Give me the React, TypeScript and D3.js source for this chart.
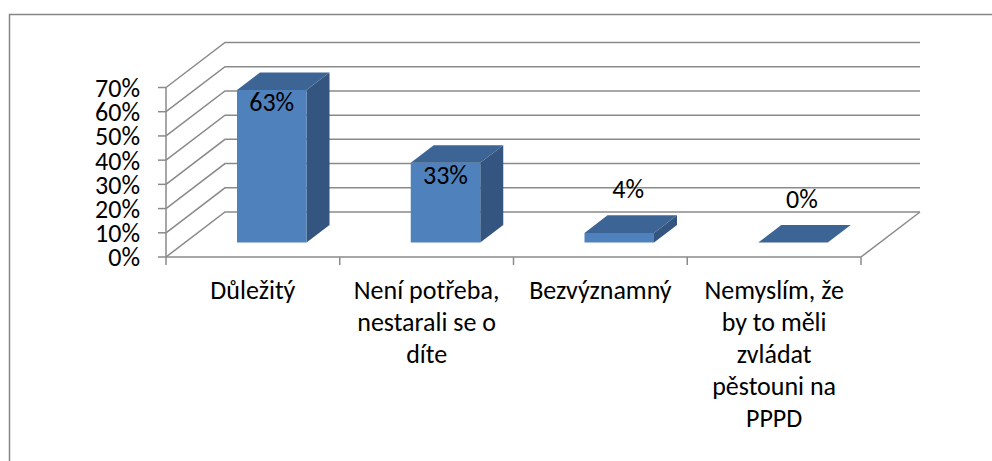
import React from 'react';
import * as d3 from 'd3';

// categories (with the line breaks Excel used) and shares
const categories = ['Důležitý', 'Není potřeba, nestarali se o díte', 'Bezvýznamný', 'Nemyslím, že by to měli zvládat pěstouni na PPPD'];
const categoryLines = [
  ['Důležitý'],
  ['Není potřeba,', 'nestarali se o', 'díte'],
  ['Bezvýznamný'],
  ['Nemyslím, že', 'by to měli', 'zvládat', 'pěstouni na', 'PPPD'],
];
const values = [0.63, 0.33, 0.04, 0];
const yTicks = [0, 0.1, 0.2, 0.3, 0.4, 0.5, 0.6, 0.7];

const FONT = 'Calibri, Carlito, Lato, sans-serif';

function App() {
  const width = 992;
  const height = 461;

  // front plane of the 3d box
  const left = 166;
  const right = 861;
  const base = 257;
  const top = 87.5;
  // full depth of the box (projected)
  const depthX = 59;
  const depthY = -45;
  // bars sit between these depth fractions
  const d1 = 0.32;
  const d2 = 0.71;

  const xScale = d3
    .scaleBand<string>()
    .domain(categories)
    .range([left, right])
    .paddingInner(0.6)
    .paddingOuter(0.3);
  const step = xScale.step();
  const bw = xScale.bandwidth();

  const yScale = d3.scaleLinear().domain([0, 0.7]).range([base, top]);
  const pct = d3.format('.0%');

  const pt = (x: number, v: number, d: number) =>
    `${x + d * depthX},${yScale(v) + d * depthY}`;
  const poly = (pts: string[]) => pts.join(' ');

  const grid = '#8a8a8a';
  const backLeft = left + depthX;
  const backRight = right + depthX;

  return (
    <svg
      width={width}
      height={height}
      style={{ position: 'absolute', left: 0, top: 0, display: 'block', background: '#fff' }}
      fontFamily={FONT}
    >
      <rect x={9.5} y={14.5} width={1000} height={500} fill="#fff" stroke="#868686" strokeWidth={1.5} />

      <g className="walls" stroke={grid} strokeWidth={1.5} fill="none">
        {yTicks.map((t) => (
          <path
            key={t}
            d={`M ${left} ${yScale(t)} L ${backLeft} ${yScale(t) + depthY} H ${backRight}`}
          />
        ))}
        {/* floor right edge */}
        <path d={`M ${right} ${base} L ${backRight} ${base + depthY}`} />
        {/* value axis */}
        <path d={`M ${left} ${top} V ${base}`} />
        {yTicks.map((t) => (
          <path key={t} d={`M ${left - 8} ${yScale(t)} H ${left}`} />
        ))}
        {/* category axis */}
        <path d={`M ${left} ${base} H ${right}`} />
        {d3.range(categories.length + 1).map((i) => (
          <path key={i} d={`M ${left + i * step} ${base} v 8`} />
        ))}
      </g>

      <g className="bars">
        {categories.map((c, i) => {
          const xl = xScale(c)!;
          const xr = xl + bw;
          const v = values[i];
          return (
            <g key={c}>
              {v > 0 && (
                <polygon
                  points={poly([pt(xr, 0, d1), pt(xr, 0, d2), pt(xr, v, d2), pt(xr, v, d1)])}
                  fill="#34557f"
                />
              )}
              {v > 0 && (
                <polygon
                  points={poly([pt(xl, 0, d1), pt(xr, 0, d1), pt(xr, v, d1), pt(xl, v, d1)])}
                  fill="#4f81bd"
                />
              )}
              <polygon
                points={poly([pt(xl, v, d1), pt(xr, v, d1), pt(xr, v, d2), pt(xl, v, d2)])}
                fill="#3c6595"
              />
            </g>
          );
        })}
      </g>

      <g className="labels" fontSize={26} fill="#000">
        {categories.map((c, i) => {
          const v = values[i];
          const cx = xScale(c)! + bw / 2 + d1 * depthX;
          const frontTop = yScale(v) + d1 * depthY;
          const inside = v > 0.2;
          return (
            <text
              key={c}
              x={inside ? cx : cx + 9}
              y={inside ? frontTop + 21 : frontTop - 35}
              textAnchor="middle"
            >
              {pct(v)}
            </text>
          );
        })}
        {yTicks.map((t) => (
          <text key={t} x={140} y={yScale(t)} dy="0.36em" textAnchor="end">
            {pct(t)}
          </text>
        ))}
        {categories.map((c, i) => (
          <text key={c} textAnchor="middle">
            {categoryLines[i].map((line, j) => (
              <tspan key={j} x={xScale(c)! + bw / 2} y={299 + j * 32}>
                {line}
              </tspan>
            ))}
          </text>
        ))}
      </g>
    </svg>
  );
}

export default App;
